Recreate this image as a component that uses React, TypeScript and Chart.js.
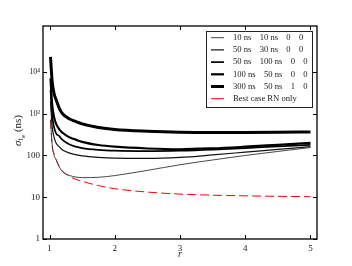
import React, { useEffect, useRef } from 'react';
import { Chart, registerables } from 'chart.js';

Chart.register(...registerables);

// ---- data ----
const r = [1.015, 1.04, 1.07, 1.1, 1.15, 1.2, 1.3, 1.4, 1.5, 1.75, 2, 2.5, 3, 3.5, 4, 4.5, 5];
const s10_10 = [720, 185, 100, 80, 53, 41, 33.5, 30.5, 29.5, 30, 33, 44, 60, 78, 100, 125, 155];
const s50_30 = [2000, 500, 270, 200, 160, 135, 115, 105, 98, 90, 86, 85, 90, 103, 120, 140, 162];
const s50_100 = [3700, 900, 470, 340, 290, 235, 185, 163, 150, 136, 130, 127, 130, 138, 150, 165, 180];
const s100_50 = [7000, 1700, 820, 580, 420, 350, 275, 240, 212, 178, 162, 147, 141, 148, 162, 180, 200];
const s300_50 = [23000, 6000, 3000, 2200, 1350, 1000, 760, 650, 570, 470, 420, 380, 360, 355, 355, 358, 365];
const sBest = [710, 175, 110, 80, 54, 42, 32, 27, 24, 19, 16, 13.3, 11.9, 11.2, 10.8, 10.5, 10.3];

const legendRows = [
  ['10 ns', '10 ns', '0', '0'],
  ['50 ns', '30 ns', '0', '0'],
  ['50 ns', '100 ns', '0', '0'],
  ['100 ns', '50 ns', '0', '0'],
  ['300 ns', '50 ns', '1', '0'],
  ['Best case RN only'],
];

const xTicks = [1, 2, 3, 4, 5];
const yTicks = [1, 10, 100, 1000, 10000];
const yTickLabels = ['1', '10', '100', '10³', '10⁴'];
const xMin = 0.9;
const xMax = 5.1;
const yMin = 1;
const yMax = Math.pow(10, 5.1);

const FONT = "'Liberation Serif', 'DejaVu Serif', serif";

const series = [s10_10, s50_30, s50_100, s100_50, s300_50, sBest];
const widths = [0.9, 1.2, 1.7, 2.2, 3, 1];
const colors = ['#333', '#111', '#000', '#000', '#000', '#ff0000'];

const framePlugin = {
  id: 'framePlugin',
  afterDraw(chart: any) {
    const { ctx, chartArea } = chart;
    const { left, right, top, bottom } = chartArea;
    const xs = chart.scales.x;
    const ys = chart.scales.y;
    ctx.save();
    // frame
    ctx.strokeStyle = '#000';
    ctx.lineWidth = 1.3;
    ctx.strokeRect(left, top, right - left, bottom - top);
    // inward ticks
    ctx.lineWidth = 1;
    const tl = 4;
    ctx.beginPath();
    for (const v of xTicks) {
      const px = Math.round(xs.getPixelForValue(v)) + 0.5;
      ctx.moveTo(px, bottom);
      ctx.lineTo(px, bottom - tl);
      ctx.moveTo(px, top);
      ctx.lineTo(px, top + tl);
    }
    for (const v of yTicks) {
      const py = Math.round(ys.getPixelForValue(v)) + 0.5;
      ctx.moveTo(left, py);
      ctx.lineTo(left + tl, py);
      ctx.moveTo(right, py);
      ctx.lineTo(right - tl, py);
    }
    ctx.stroke();

    // legend
    const bw = 106;
    const bh = 76;
    const bx = right - 5 - bw;
    const by = top + 5;
    ctx.fillStyle = '#fff';
    ctx.fillRect(bx, by, bw, bh);
    ctx.strokeStyle = '#222';
    ctx.lineWidth = 1;
    ctx.strokeRect(bx + 0.5, by + 0.5, bw, bh);
    ctx.font = `8.6px ${FONT}`;
    ctx.textBaseline = 'middle';
    ctx.textAlign = 'left';
    legendRows.forEach((cols, i) => {
      const ds = chart.data.datasets[i];
      const yy = by + 6.7 + i * 12.2;
      ctx.strokeStyle = ds.borderColor;
      ctx.lineWidth = ds.borderWidth;
      ctx.beginPath();
      ctx.moveTo(bx + 5, yy);
      ctx.lineTo(bx + 18, yy);
      ctx.stroke();
      ctx.fillStyle = '#222';
      let tx = bx + 27;
      cols.forEach((c) => {
        ctx.fillText(c, tx, yy);
        tx += ctx.measureText(c).width + 8.3;
      });
    });

    // x title
    ctx.fillStyle = '#222';
    ctx.textAlign = 'center';
    ctx.textBaseline = 'alphabetic';
    ctx.font = `italic 10px ${FONT}`;
    ctx.fillText('r', (left + right) / 2, 257);

    // y title: sigma_{t_w} (ns)
    ctx.save();
    ctx.translate(17, (top + bottom) / 2 - 2);
    ctx.rotate(-Math.PI / 2);
    const parts = [
      { t: 'σ', f: `italic 11px ${FONT}`, dy: 0 },
      { t: 't', f: `italic 7.5px ${FONT}`, dy: 2.5 },
      { t: 'w', f: `italic 5.5px ${FONT}`, dy: 4.5 },
      { t: ' (ns)', f: `11px ${FONT}`, dy: 0 },
    ];
    let total = 0;
    for (const p of parts) {
      ctx.font = p.f;
      total += ctx.measureText(p.t).width;
    }
    let cx = -total / 2;
    ctx.textAlign = 'left';
    for (const p of parts) {
      ctx.font = p.f;
      ctx.fillText(p.t, cx, 3.5 + p.dy);
      cx += ctx.measureText(p.t).width;
    }
    ctx.restore();

    ctx.restore();
  },
};

export default function App() {
  const ref = useRef<HTMLCanvasElement | null>(null);
  useEffect(() => {
    document.body.style.margin = '0';
    const canvas = ref.current;
    if (!canvas) return;
    const labels = ['10 ns 10 ns 0 0', '50 ns 30 ns 0 0', '50 ns 100 ns 0 0', '100 ns 50 ns 0 0', '300 ns 50 ns 1 0', 'Best case RN only'];
    const chart = new Chart(canvas, {
      type: 'line',
      data: {
        datasets: series.map((s, i) => ({
          label: labels[i],
          data: s.map((v, k) => ({ x: r[k], y: v })),
          borderColor: colors[i],
          borderWidth: widths[i],
          borderDash: i === 5 ? [9, 4] : [],
          pointRadius: 0,
          fill: false,
          cubicInterpolationMode: 'monotone',
        })),
      },
      options: {
        animation: false,
        responsive: false,
        events: [],
        layout: { padding: { left: 0, top: 26, right: 35, bottom: 0 } },
        plugins: { legend: { display: false }, tooltip: { enabled: false } },
        scales: {
          x: {
            type: 'linear',
            min: xMin,
            max: xMax,
            grid: { display: false, drawTicks: false },
            border: { display: false },
            afterBuildTicks: (s: any) => {
              s.ticks = xTicks.map((v) => ({ value: v }));
            },
            afterFit: (s: any) => {
              s.height = 27;
            },
            ticks: {
              padding: 4,
              maxRotation: 0,
              color: '#222',
              font: { family: FONT, size: 9 },
              callback: (v: any) => String(v),
            },
          },
          y: {
            type: 'logarithmic',
            min: yMin,
            max: yMax,
            grid: { display: false, drawTicks: false },
            border: { display: false },
            afterBuildTicks: (s: any) => {
              s.ticks = yTicks.map((v) => ({ value: v }));
            },
            afterFit: (s: any) => {
              s.width = 43;
            },
            ticks: {
              padding: 3,
              color: '#222',
              font: (c: any) => ({ family: FONT, size: c.tick && c.tick.value >= 1000 ? 8 : 9 }),
              callback: (v: any) => {
                const i = yTicks.indexOf(Number(v));
                return i >= 0 ? yTickLabels[i] : '';
              },
            },
          },
        },
      },
      plugins: [framePlugin],
    } as any);
    return () => chart.destroy();
  }, []);
  return (
    <div style={{ position: 'fixed', left: 0, top: 0, width: 352, height: 266, background: '#fff' }}>
      <canvas ref={ref} width={352} height={266} style={{ display: 'block' }} />
    </div>
  );
}
